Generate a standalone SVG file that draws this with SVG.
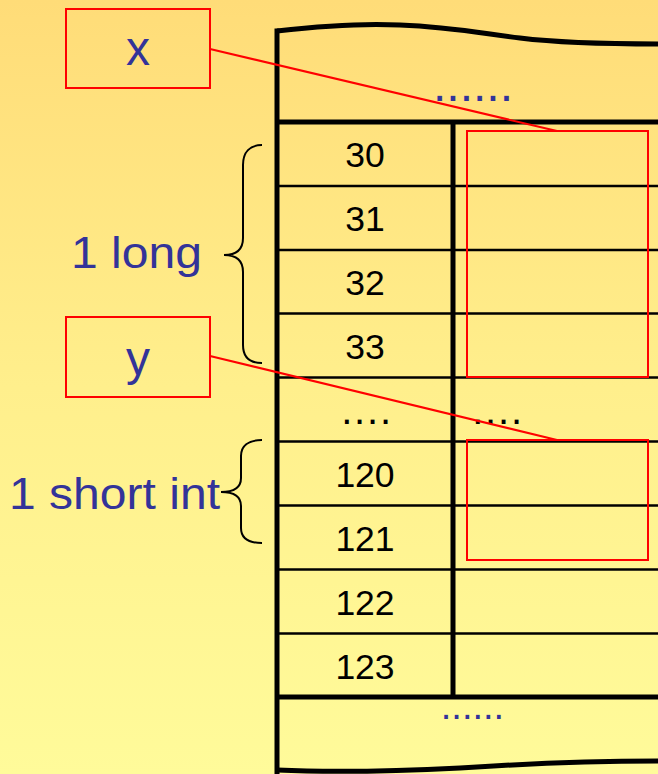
<svg xmlns="http://www.w3.org/2000/svg" width="658" height="774" viewBox="0 0 658 774">
<defs>
<linearGradient id="bg" x1="0" y1="0" x2="0" y2="1">
<stop offset="0" stop-color="#FFDC78"/>
<stop offset="0.5" stop-color="#FFEF8C"/>
<stop offset="1" stop-color="#FFFB9A"/>
</linearGradient>
<style>
.thick{stroke:#000;stroke-width:5;fill:none}
.thin{stroke:#000;stroke-width:2.5;fill:none}
.red{stroke:#FF0000;stroke-width:2;fill:none}
.brace{stroke:#000;stroke-width:2;fill:none}
.num{font-family:"Liberation Sans",Arial,sans-serif;font-size:35.5px;fill:#000;text-anchor:middle}
.lbl{font-family:"Liberation Sans",Arial,sans-serif;fill:#333399}
.dots{font-family:"Liberation Sans",Arial,sans-serif;fill:#333399;text-anchor:middle}
.bdots{font-family:"Liberation Sans",Arial,sans-serif;fill:#000;font-size:40px;letter-spacing:1.8px;text-anchor:middle}
</style>
</defs>
<rect x="0" y="0" width="658" height="774" fill="url(#bg)"/>

<g id="memory-table">
<path class="thick" d="M277,31 C320,26 360,23 400,25 C450,27 480,33 520,38 C560,43 600,44 660,44"/>
<path class="thick" d="M277,770 C340,773 400,771 460,768 C520,764 580,761 660,761"/>
<line class="thick" x1="277" y1="28.5" x2="277" y2="774"/>
<line class="thick" x1="277" y1="122" x2="660" y2="122"/>
<line class="thick" x1="277" y1="697" x2="660" y2="697"/>
<line class="thick" x1="453" y1="122" x2="453" y2="697"/>
<line class="thin" x1="277" y1="186" x2="660" y2="186"/>
<line class="thin" x1="277" y1="250" x2="660" y2="250"/>
<line class="thin" x1="277" y1="313.5" x2="660" y2="313.5"/>
<line class="thin" x1="277" y1="377.5" x2="660" y2="377.5"/>
<line class="thin" x1="277" y1="441.5" x2="660" y2="441.5"/>
<line class="thin" x1="277" y1="505.5" x2="660" y2="505.5"/>
<line class="thin" x1="277" y1="569.5" x2="660" y2="569.5"/>
<line class="thin" x1="277" y1="633.5" x2="660" y2="633.5"/>
<text class="dots" x="473" y="101" font-size="48">......</text>
<text class="dots" x="472.5" y="719" font-size="38">......</text>
<text class="num" x="365" y="167">30</text>
<text class="num" x="365" y="231">31</text>
<text class="num" x="365" y="295">32</text>
<text class="num" x="365" y="359">33</text>
<text class="bdots" x="367" y="424">....</text>
<text class="bdots" x="498" y="424">....</text>
<text class="num" x="365" y="487">120</text>
<text class="num" x="365" y="551">121</text>
<text class="num" x="365" y="615">122</text>
<text class="num" x="365" y="679">123</text>
</g>

<g id="x-region">
<rect class="red" x="467" y="131" width="181" height="246"/>
</g>
<g id="y-region">
<rect class="red" x="467" y="440" width="181" height="120"/>
</g>

<g id="var-x">
<rect class="red" x="66" y="9" width="144" height="79"/>
<text class="lbl" x="138" y="65" font-size="48" text-anchor="middle">x</text>
</g>
<g id="var-y">
<rect class="red" x="66" y="317" width="144" height="80"/>
<text class="lbl" x="138" y="375" font-size="48" text-anchor="middle">y</text>
</g>

<g id="long-brace">
<path class="brace" d="M262,145 C250,145 243,152 243,165 L243,238 C243,250 236,255 224,255 C236,255 243,260 243,272 L243,345 C243,358 250,363 262,363"/>
<text class="lbl" x="71" y="268" font-size="45" textLength="131" lengthAdjust="spacingAndGlyphs">1 long</text>
</g>
<g id="short-brace">
<path class="brace" d="M262,440 C248,440 241,446 241,456 L241,478 C241,487 234,492 221,492 C234,492 241,497 241,506 L241,528 C241,538 248,543 262,543"/>
<text class="lbl" x="9" y="509" font-size="45" textLength="211" lengthAdjust="spacingAndGlyphs">1 short int</text>
</g>

<g id="connectors">
<line class="red" x1="210" y1="49" x2="557" y2="131"/>
<line class="red" x1="210" y1="356" x2="557" y2="440"/>
</g>
</svg>
